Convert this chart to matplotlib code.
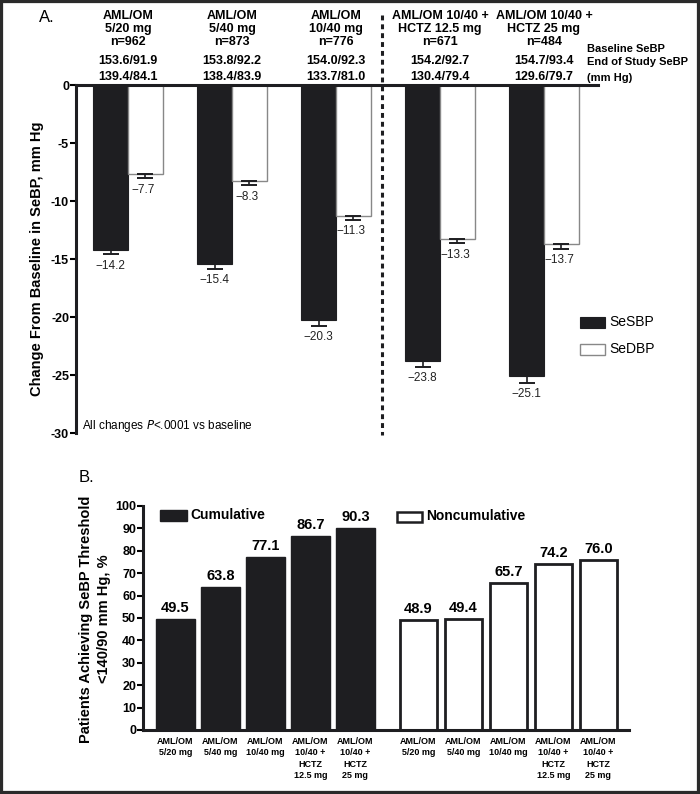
import matplotlib
matplotlib.use("Agg")
import matplotlib.pyplot as plt
import matplotlib.transforms as mtransforms
from matplotlib.patches import Rectangle
import numpy as np

plt.rcParams["font.family"] = ["Liberation Sans", "DejaVu Sans"]
plt.rcParams["axes.unicode_minus"] = False

W, H = 700, 794
DARK = "#1e1e21"


def fx(x):
    return x / W


def fy(y):
    return 1 - y / H


# ── Panel A data ─────────────────────────────────────────────────────────────
hdr_line1 = ["AML/OM", "AML/OM", "AML/OM", "AML/OM 10/40 +", "AML/OM 10/40 +"]
hdr_line2 = ["5/20 mg", "5/40 mg", "10/40 mg", "HCTZ 12.5 mg", "HCTZ 25 mg"]
n_pts = [962, 873, 776, 671, 484]
baseline_bp = ["153.6/91.9", "153.8/92.2", "154.0/92.3", "154.2/92.7", "154.7/93.4"]
end_bp = ["139.4/84.1", "138.4/83.9", "133.7/81.0", "130.4/79.4", "129.6/79.7"]
sbp_change = [-14.2, -15.4, -20.3, -23.8, -25.1]
dbp_change = [-7.7, -8.3, -11.3, -13.3, -13.7]
sbp_se = [0.4, 0.45, 0.5, 0.5, 0.6]
dbp_se = [0.35, 0.35, 0.3, 0.35, 0.4]

# ── Panel B data ─────────────────────────────────────────────────────────────
cumulative = [49.5, 63.8, 77.1, 86.7, 90.3]
noncumulative = [48.9, 49.4, 65.7, 74.2, 76.0]
b_ticklabels = ["AML/OM\n5/20 mg", "AML/OM\n5/40 mg", "AML/OM\n10/40 mg",
                "AML/OM\n10/40 +\nHCTZ\n12.5 mg", "AML/OM\n10/40 +\nHCTZ\n25 mg"]

fig = plt.figure(figsize=(7, 7.94), dpi=100)

# ── Panel A ──────────────────────────────────────────────────────────────────
axA = fig.add_axes([fx(76), fy(433), fx(598) - fx(76), fy(85) - fy(433)])
x = np.arange(len(sbp_change))
bw = 0.335
axA.bar(x - bw / 2, sbp_change, bw, color=DARK, edgecolor=DARK, lw=0.8)
axA.bar(x + bw / 2, dbp_change, bw, color="white", edgecolor="#888888", lw=1.0)
axA.errorbar(x - bw / 2, sbp_change, yerr=[sbp_se, [0] * 5], fmt="none",
             ecolor=DARK, elinewidth=1.2, capsize=6, capthick=1.4)
axA.errorbar(x + bw / 2, dbp_change, yerr=[dbp_se, [0] * 5], fmt="none",
             ecolor=DARK, elinewidth=1.2, capsize=6, capthick=1.4)
for xi, v, e in zip(x - bw / 2, sbp_change, sbp_se):
    axA.text(xi, v - e - 0.45, f"\u2212{abs(v):.1f}", ha="center", va="top",
             fontsize=8.5, color="#222222")
for xi, v, e in zip(x + bw / 2, dbp_change, dbp_se):
    axA.text(xi - 0.02, v - e - 0.45, f"\u2212{abs(v):.1f}", ha="center", va="top",
             fontsize=8.5, color="#222222")

axA.set_xlim(-0.5, 4.52)
axA.set_ylim(-30, 0)
axA.set_yticks([0, -5, -10, -15, -20, -25, -30])
axA.set_yticklabels(["0", "-5", "-10", "-15", "-20", "-25", "-30"],
                    fontsize=9, fontweight="bold")
axA.set_xticks([])
axA.tick_params(axis="y", direction="out", length=4, width=1.5, pad=1)
axA.spines["bottom"].set_visible(False)
axA.spines["right"].set_visible(False)
axA.spines["top"].set_linewidth(2.2)
axA.spines["left"].set_linewidth(2.2)
axA.spines["top"].set_color(DARK)
axA.spines["left"].set_color(DARK)

# dotted separator between monotherapy and HCTZ groups
axA.plot([2.44, 2.44], [6.0, -30.2], color=DARK, lw=2.2,
         linestyle=(0, (1.6, 1.3)), clip_on=False)

trA = mtransforms.blended_transform_factory(axA.transData, fig.transFigure)
for i in range(len(n_pts)):
    axA.text(i, fy(16), hdr_line1[i], transform=trA, ha="center", va="center",
             fontsize=9, fontweight="bold")
    axA.text(i, fy(29), hdr_line2[i], transform=trA, ha="center", va="center",
             fontsize=9, fontweight="bold")
    axA.text(i, fy(42), f"n={n_pts[i]}", transform=trA, ha="center", va="center",
             fontsize=9, fontweight="bold")
    axA.text(i, fy(61), baseline_bp[i], transform=trA, ha="center", va="center",
             fontsize=9, fontweight="bold")
    axA.text(i, fy(77), end_bp[i], transform=trA, ha="center", va="center",
             fontsize=9, fontweight="bold")

fig.text(fx(587), fy(49), "Baseline SeBP", ha="left", va="center",
         fontsize=8, fontweight="bold")
fig.text(fx(587), fy(62), "End of Study SeBP", ha="left", va="center",
         fontsize=8, fontweight="bold")
fig.text(fx(587), fy(78), "(mm Hg)", ha="left", va="center",
         fontsize=8, fontweight="bold")

fig.text(fx(39), fy(18), "A.", ha="left", va="center", fontsize=12)
fig.text(fx(37), fy(259), "Change From Baseline in SeBP, mm Hg", rotation=90,
         ha="center", va="center", fontsize=10.5, fontweight="bold")
fig.text(fx(82), fy(426), "All changes $\\it{P}$<.0001 vs baseline",
         ha="left", va="center", fontsize=8.5)

# legend A
fig.patches.append(Rectangle((fx(580), fy(328)), fx(25), 11 / H,
                             transform=fig.transFigure, facecolor=DARK,
                             edgecolor=DARK, lw=0.8))
fig.patches.append(Rectangle((fx(580), fy(355)), fx(25), 11 / H,
                             transform=fig.transFigure, facecolor="white",
                             edgecolor="#888888", lw=1.0))
fig.text(fx(609), fy(322), "SeSBP", ha="left", va="center", fontsize=10)
fig.text(fx(609), fy(349), "SeDBP", ha="left", va="center", fontsize=10)

# ── Panel B ──────────────────────────────────────────────────────────────────
axB = fig.add_axes([fx(143), fy(730), fx(629) - fx(143), fy(506) - fy(730)])
xc = np.arange(len(cumulative))
xn = xc + 5.4
axB.bar(xc, cumulative, 0.85, color=DARK, edgecolor=DARK, lw=1.0)
axB.bar(xn, noncumulative, 0.82, color="white", edgecolor=DARK, lw=2.0)
for xi, v in zip(xc, cumulative):
    axB.text(xi, v + 1.8, f"{v:.1f}", ha="center", va="bottom",
             fontsize=10.5, fontweight="bold")
for xi, v in zip(xn, noncumulative):
    axB.text(xi, v + 1.8, f"{v:.1f}", ha="center", va="bottom",
             fontsize=10.5, fontweight="bold")

axB.set_xlim(-0.72, 10.08)
axB.set_ylim(0, 100)
axB.set_yticks(np.arange(0, 101, 10))
axB.set_yticklabels([str(t) for t in range(0, 101, 10)], fontsize=9,
                    fontweight="bold")
axB.set_xticks(list(xc) + list(xn))
axB.set_xticklabels(b_ticklabels + b_ticklabels, fontsize=6.5,
                    fontweight="bold", linespacing=1.35, va="top")
axB.tick_params(axis="x", length=0, pad=5)
axB.tick_params(axis="y", direction="out", length=4, width=1.5, pad=1)
axB.spines["right"].set_visible(False)
axB.spines["top"].set_visible(False)
axB.spines["left"].set_linewidth(2.2)
axB.spines["bottom"].set_linewidth(2.2)
axB.spines["left"].set_color(DARK)
axB.spines["bottom"].set_color(DARK)

fig.text(fx(79), fy(477), "B.", ha="left", va="center", fontsize=12)
fig.text(fx(95), fy(619), "Patients Achieving SeBP Threshold\n<140/90 mm Hg, %",
         rotation=90, ha="center", va="center", fontsize=10.5, fontweight="bold",
         linespacing=1.4)

# legend B
fig.patches.append(Rectangle((fx(160), fy(521)), fx(27), 11 / H,
                             transform=fig.transFigure, facecolor=DARK,
                             edgecolor=DARK, lw=1.0))
fig.patches.append(Rectangle((fx(397), fy(522)), fx(25), 10 / H,
                             transform=fig.transFigure, facecolor="white",
                             edgecolor=DARK, lw=1.8))
fig.text(fx(190), fy(515), "Cumulative", ha="left", va="center",
         fontsize=10, fontweight="bold")
fig.text(fx(426), fy(516), "Noncumulative", ha="left", va="center",
         fontsize=10, fontweight="bold")

# outer frame
fig.patches.append(Rectangle((0, 0), 1, 1, transform=fig.transFigure,
                             fill=False, edgecolor="#2a2a2a", lw=4.5))

fig.savefig("out.png", dpi=100)
